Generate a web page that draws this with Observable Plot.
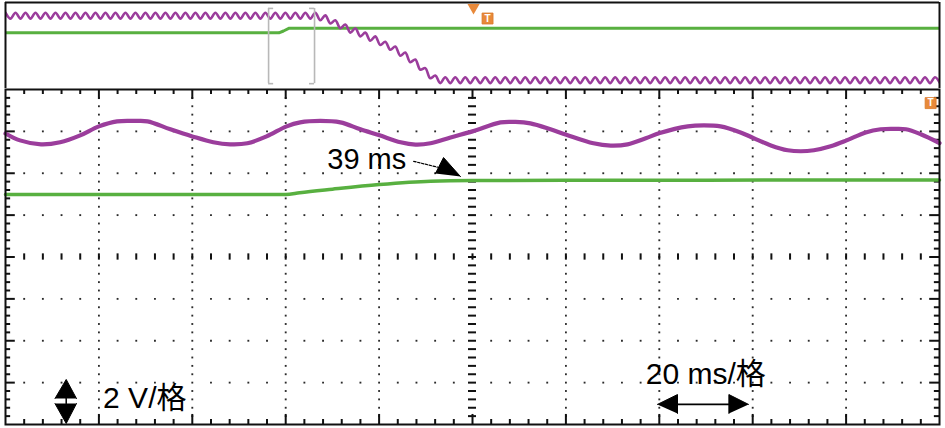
<!DOCTYPE html>
<html><head><meta charset="utf-8">
<script src="https://cdn.jsdelivr.net/npm/d3@7"></script>
<script src="https://cdn.jsdelivr.net/npm/@observablehq/plot@0.6"></script>
<style>
html,body{margin:0;padding:0;background:#fff;}
svg{display:block;}
</style></head><body><div id="chart"></div>
<script>
// ---------- main window: time in ms (20 ms/div), voltage in V (2 V/div) ----------
const xDomain = [-100, 100];
const yDomain = [-8, 8];
const xMajor = [-100, -80, -60, -40, -20, 0, 20, 40, 60, 80, 100];
const yMajor = [-8, -6, -4, -2, 0, 2, 4, 6, 8];
const xMinorStep = 4;     // 5 minor ticks per 20 ms division
const yMinorStep = 0.4;   // 5 minor ticks per 2 V division

// purple trace (main window)
const purpleT = [-100,-96.9,-92.4,-88.3,-84,-80,-76.1,-72.2,-69.6,-64.7,-60,-55.5,-51.9,-48.2,-44.1,-39.8,-36.9,-32.6,-28.3,-24,-19.9,-15.4,-12.2,-9,-4.7,0,6,9.2,12.4,16.7,20.1,25.9,29.6,33.2,37.1,40.1,46.1,49.5,53.1,57.4,60.2,63.9,67.5,70.3,73.1,76.7,80.1,84.2,87.4,90.2,92.8,96,100];
const purpleV = [5.90,5.57,5.38,5.48,5.81,6.24,6.48,6.50,6.48,6.10,5.76,5.48,5.38,5.43,5.76,6.24,6.43,6.50,6.43,6.10,5.81,5.48,5.37,5.43,5.71,6.00,6.43,6.45,6.38,6.10,5.84,5.43,5.32,5.38,5.67,5.92,6.24,6.29,6.24,5.95,5.68,5.33,5.10,5.05,5.10,5.29,5.57,5.95,6.10,6.12,6.10,5.86,5.44];

// green trace (main window)
const greenT = [-100,-40,-37,-30,-20,-9,0,50,100];
const greenV = [2.98,2.98,3.07,3.24,3.46,3.62,3.65,3.67,3.68];

// ---------- overview strip (whole record, ms) ----------
const overviewDomain = [-1245, 2820];
const overviewStep = 21.75;
const overviewPurpleV = [
 6.1,5.0,6.1,5.0,6.1,5.0,6.1,5.0,6.1,5.0,6.1,5.0,6.1,5.0,6.1,5.0,6.1,5.0,6.1,5.0,
 6.1,5.0,6.1,5.0,6.1,5.0,6.1,5.0,6.1,5.0,6.1,5.0,6.1,5.0,6.1,5.0,6.1,5.0,6.1,5.0,
 6.1,5.0,6.1,5.0,6.1,5.0,6.1,5.0,6.1,5.0,6.1,5.0,6.1,5.0,6.1,5.0,6.1,5.0,6.1,5.0,
 6.1,5.0,6.1,
 4.7,5.6,4.1,4.7,3.2,3.9,2.4,3.2,1.7,2.4,0.9,1.7,0.1,0.7,-0.8,-0.2,-1.9,-1.3,-3.1,-2.6,-4.5,-4.2,-6.1,-5.6,-7.0,
 -5.9,-7.0,-5.9,-7.0,-5.9,-7.0,-5.9,-7.0,-5.9,-7.0,-5.9,-7.0,-5.9,-7.0,-5.9,-7.0,-5.9,-7.0,-5.9,-7.0,
 -5.9,-7.0,-5.9,-7.0,-5.9,-7.0,-5.9,-7.0,-5.9,-7.0,-5.9,-7.0,-5.9,-7.0,-5.9,-7.0,-5.9,-7.0,-5.9,-7.0,
 -5.9,-7.0,-5.9,-7.0,-5.9,-7.0,-5.9,-7.0,-5.9,-7.0,-5.9,-7.0,-5.9,-7.0,-5.9,-7.0,-5.9,-7.0,-5.9,-7.0,
 -5.9,-7.0,-5.9,-7.0,-5.9,-7.0,-5.9,-7.0,-5.9,-7.0,-5.9,-7.0,-5.9,-7.0,-5.9,-7.0,-5.9,-7.0,-5.9,-7.0,
 -5.9,-7.0,-5.9,-7.0,-5.9,-7.0,-5.9,-7.0,-5.9,-7.0,-5.9,-7.0,-5.9,-7.0,-5.9,-7.0,-5.9,-7.0,-5.9,-7.0
];
const overviewGreenT = [-1245,-55,-35,-10,2820];
const overviewGreenV = [2.36,2.36,2.7,3.22,3.22];
const bracketV = [-7.1, 6.9];
const triggerPos = {t: 792, v: 7.07};
const triggerMarkTop = {t: 853, v: 5.02};
const triggerMarkMain = {t: 98.1, v: 7.35};

// ---------- annotations ----------
const labels39 = [{t: -31.1, v: 4.67, label: "39 ms"}];
const labelsDiv = [
  {t: -79.1, v: -6.76, label: "2 V/格"},
  {t: 37.1, v: -5.62, label: "20 ms/格"}
];
const arrow39Line = [[-12.6, 4.57], [-7.5, 4.29]];
const arrow39Head = [[-7.93, 3.99], [-6.2, 4.75], [-2.57, 3.84]];
const voltArrowUp = [[-89.4, -6.76], [-87.0, -5.85], [-84.8, -6.76]];
const voltArrowDown = [[-89.4, -7.0], [-87.0, -7.95], [-84.8, -7.0]];
const voltArrowStem = [[-87.0, -6.76], [-87.0, -7.0]];
const timeArrowLeft = [[39.6, -7.04], [43.9, -6.57], [43.9, -7.47]];
const timeArrowRight = [[59.1, -7.04], [54.9, -6.57], [54.9, -7.47]];
const timeArrowStem = [[43.9, -7.04], [54.9, -7.04]];

// ---------- styles ----------
const PURPLE = "#9b3d9c";
const GREEN = "#58b040";
const ORANGE = "#e8893a";
const FONT = "Liberation Sans, Arial, Noto Sans CJK SC, sans-serif";

// ---------- derived grid data ----------
const xMinor = d3.range(-25, 26).map(k => +(k * xMinorStep).toFixed(3));
const yMinor = d3.range(-20, 21).map(k => +(k * yMinorStep).toFixed(3));
const isMajorX = t => xMajor.includes(t);
const isMajorY = v => Math.abs(v / 2 - Math.round(v / 2)) < 1e-6;
const innerX = xMinor.filter(t => t > -100 && t < 100);
const innerY = yMinor.filter(v => v > -8 && v < 8);

const gridDots = [];
for (const t of xMajor) if (t > -100 && t < 100 && t !== 0) for (const v of innerY) gridDots.push([t, v]);
for (const v of yMajor) if (v > -8 && v < 8 && v !== 0) for (const t of innerX) if (!isMajorX(t)) gridDots.push([t, v]);

const ticksH = []; // horizontal small segments: [x1,x2,y]
for (const v of innerY) {
  const L = isMajorY(v) ? 2.1 : 1.1;
  ticksH.push([-100, -100 + L, v]);
  ticksH.push([100 - L, 100, v]);
  ticksH.push([-0.86, 0.86, v]);
}
const ticksV = []; // vertical small segments: [x,y1,y2]
for (const t of innerX) {
  const L = isMajorX(t) ? 0.48 : 0.24;
  ticksV.push([t, 8 - L, 8]);
  ticksV.push([t, -8, -8 + L]);
  ticksV.push([t, -0.15, 0.15]);
}

const tri = (pts) => Plot.line(pts, {x: d => d[0], y: d => d[1], fill: "#000", stroke: "#000", strokeWidth: 1});

// ---------- overview plot ----------
const overviewT = overviewPurpleV.map((_, i) => overviewDomain[0] + i * overviewStep);
const overviewPurple = overviewPurpleV.map((v, i) => ({t: overviewT[i], v}));
const overviewGreen = overviewGreenT.map((t, i) => ({t, v: overviewGreenV[i]}));
const serif = 22;

const topPlot = Plot.plot({
  width: 945, height: 88,
  marginTop: 2, marginBottom: 0, marginLeft: 5, marginRight: 6,
  x: {domain: overviewDomain, axis: null},
  y: {domain: yDomain, axis: null},
  marks: [
    Plot.line(overviewGreen, {x: "t", y: "v", stroke: GREEN, strokeWidth: 3, clip: true}),
    Plot.line(overviewPurple, {x: "t", y: "v", stroke: PURPLE, strokeWidth: 2.6, curve: "catmull-rom", clip: true}),
    // zoom window bracket (= main window)
    Plot.ruleX(xDomain, {y1: bracketV[0], y2: bracketV[1], stroke: "#b8b8b8", strokeWidth: 1.6}),
    Plot.ruleY(bracketV, {x1: xDomain[0], x2: xDomain[0] + serif, stroke: "#b8b8b8", strokeWidth: 1.6}),
    Plot.ruleY(bracketV, {x1: xDomain[1] - serif, x2: xDomain[1], stroke: "#b8b8b8", strokeWidth: 1.6}),
    // border
    Plot.ruleY([yDomain[1]], {stroke: "#111", strokeWidth: 2}),
    Plot.ruleX(overviewDomain, {stroke: "#111", strokeWidth: 2}),
    // trigger markers
    Plot.dot([triggerPos], {x: "t", y: "v", symbol: "triangle", r: 4.5, rotate: 180, fill: ORANGE, stroke: null}),
    Plot.dot([triggerMarkTop], {x: "t", y: "v", symbol: "square", r: 6.2, fill: ORANGE, stroke: "#d97a2a", strokeWidth: 0.8}),
    Plot.text([triggerMarkTop], {x: "t", y: "v", text: () => "T", fill: "#fff", fontWeight: "bold", fontSize: 10, fontFamily: FONT})
  ]
});

// ---------- main plot ----------
const purple = purpleT.map((t, i) => ({t, v: purpleV[i]}));
const green = greenT.map((t, i) => ({t, v: greenV[i]}));

const mainPlot = Plot.plot({
  width: 945, height: 340,
  marginTop: 1, marginBottom: 4, marginLeft: 5, marginRight: 6,
  x: {domain: xDomain, axis: null},
  y: {domain: yDomain, axis: null},
  marks: [
    Plot.dot(gridDots, {x: d => d[0], y: d => d[1], r: 1.05, symbol: "square", fill: "#2a2a2a", stroke: null}),
    Plot.ruleY(ticksH, {x1: d => d[0], x2: d => d[1], y: d => d[2], stroke: "#111", strokeWidth: 2}),
    Plot.ruleX(ticksV, {x: d => d[0], y1: d => d[1], y2: d => d[2], stroke: "#111", strokeWidth: 2}),
    Plot.line(green, {x: "t", y: "v", stroke: GREEN, strokeWidth: 3.5, curve: "monotone-x"}),
    Plot.line(purple, {x: "t", y: "v", stroke: PURPLE, strokeWidth: 4.2, curve: "catmull-rom"}),
    Plot.frame({stroke: "#111", strokeWidth: 2}),
    // trigger level marker
    Plot.dot([triggerMarkMain], {x: "t", y: "v", symbol: "square", r: 6.2, fill: ORANGE, stroke: "#d97a2a", strokeWidth: 0.8}),
    Plot.text([triggerMarkMain], {x: "t", y: "v", text: () => "T", fill: "#fff", fontWeight: "bold", fontSize: 10, fontFamily: FONT}),
    // 39 ms annotation
    Plot.line(arrow39Line, {x: d => d[0], y: d => d[1], stroke: "#000", strokeWidth: 1.2, strokeDasharray: "2.5,1.5"}),
    tri(arrow39Head),
    Plot.text(labels39, {x: "t", y: "v", text: "label", textAnchor: "start", fontSize: 29, fontFamily: FONT, fill: "#000"}),
    // volts/div arrow
    tri(voltArrowUp), tri(voltArrowDown),
    Plot.line(voltArrowStem, {x: d => d[0], y: d => d[1], stroke: "#000", strokeWidth: 1.5}),
    // time/div arrow
    tri(timeArrowLeft), tri(timeArrowRight),
    Plot.line(timeArrowStem, {x: d => d[0], y: d => d[1], stroke: "#000", strokeWidth: 1.8}),
    Plot.text(labelsDiv, {x: "t", y: "v", text: "label", textAnchor: "start", fontSize: 30, fontFamily: FONT, fill: "#000"})
  ]
});

const chart = document.getElementById("chart");
chart.appendChild(topPlot);
chart.appendChild(mainPlot);
</script>
</body></html>
